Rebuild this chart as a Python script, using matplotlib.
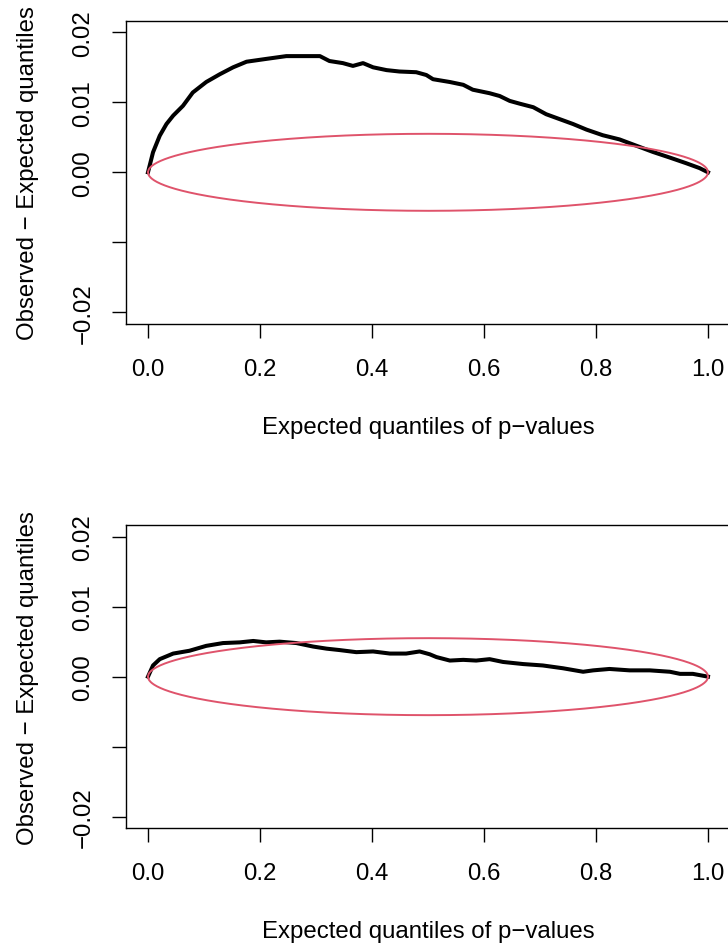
import numpy as np
import matplotlib
matplotlib.use("Agg")
import matplotlib.pyplot as plt

plt.rcParams['font.family'] = ['Liberation Sans', 'DejaVu Sans']

# observed - expected quantile differences, first run
x_top = [0.0, 0.009, 0.021, 0.033, 0.045, 0.0625, 0.080, 0.104, 0.128, 0.152,
         0.176, 0.211, 0.247, 0.265, 0.307, 0.324, 0.348, 0.366, 0.384, 0.402,
         0.426, 0.449, 0.479, 0.497, 0.509, 0.539, 0.563, 0.580, 0.610, 0.628,
         0.646, 0.664, 0.688, 0.711, 0.735, 0.759, 0.783, 0.812, 0.842, 0.872,
         0.902, 0.932, 0.961, 0.985, 1.0]
y_top = [0.0, 0.00286, 0.00523, 0.0069, 0.0081, 0.0095, 0.0114, 0.0129, 0.0140, 0.0150,
         0.0158, 0.0162, 0.0166, 0.0166, 0.0166, 0.0159, 0.0156, 0.0152, 0.0156, 0.0150,
         0.0146, 0.0144, 0.0143, 0.0139, 0.0133, 0.0129, 0.0125, 0.0118, 0.0113, 0.0109,
         0.0102, 0.0098, 0.0093, 0.0083, 0.0076, 0.0069, 0.0061, 0.0053, 0.0047, 0.0038,
         0.0029, 0.0021, 0.0013, 0.0006, 0.0]

# second run
x_bot = [0.0, 0.009, 0.021, 0.045, 0.074, 0.104, 0.134, 0.164, 0.188, 0.211,
         0.235, 0.265, 0.295, 0.319, 0.342, 0.372, 0.402, 0.432, 0.461, 0.485,
         0.503, 0.515, 0.539, 0.563, 0.586, 0.610, 0.634, 0.670, 0.705, 0.741,
         0.777, 0.795, 0.824, 0.860, 0.896, 0.932, 0.950, 0.973, 1.0]
y_bot = [0.0, 0.0016, 0.0025, 0.0033, 0.0037, 0.0044, 0.0048, 0.0049, 0.0051, 0.0049,
         0.0050, 0.0048, 0.0043, 0.0040, 0.0038, 0.0035, 0.0036, 0.0033, 0.0033, 0.0036,
         0.0032, 0.0028, 0.0023, 0.0024, 0.0023, 0.0025, 0.0021, 0.0018, 0.0016, 0.0012,
         0.0007, 0.0009, 0.0011, 0.0009, 0.0009, 0.0007, 0.0004, 0.0004, 0.0]

# half-width of the confidence band at p = 0.5
band_peak = 0.0055

xticks = [0.0, 0.2, 0.4, 0.6, 0.8, 1.0]
xtick_labels = ['0.0', '0.2', '0.4', '0.6', '0.8', '1.0']
yticks = [-0.02, -0.01, 0.0, 0.01, 0.02]
ytick_labels = ['\u22120.02', '', '0.00', '0.01', '0.02']

red = '#DF536B'
fs = 17.3

fig = plt.figure(figsize=(7.28, 9.45), dpi=100)
ax1 = fig.add_axes([0.1725, 0.6566, 0.8308, 0.32])
ax2 = fig.add_axes([0.1725, 0.1229, 0.8308, 0.32])

p = np.linspace(0, 1, 801)
band = band_peak * np.sqrt(p * (1 - p)) / 0.5

for ax, xs, ys in [(ax1, x_top, y_top), (ax2, x_bot, y_bot)]:
    ax.plot(xs, ys, color='black', lw=2.9, solid_joinstyle='round', zorder=3)
    ax.plot(p, band, color=red, lw=1.4, zorder=4)
    ax.plot(p, -band, color=red, lw=1.4, zorder=4)
    ax.set_xlim(-0.04, 1.04)
    ax.set_ylim(-0.0216, 0.0216)
    ax.set_xticks(xticks)
    ax.set_xticklabels(xtick_labels)
    ax.set_yticks(yticks)
    ax.set_yticklabels(ytick_labels, rotation=90, va='center')
    ax.tick_params(axis='both', direction='out', length=10, width=1.0,
                   labelsize=fs, color='black')
    ax.tick_params(axis='x', pad=14.5)
    ax.tick_params(axis='y', pad=12.5)
    for s in ax.spines.values():
        s.set_linewidth(1.0)
    ax.set_xlabel('Expected quantiles of p\u2212values', fontsize=fs, labelpad=26)
    ax.set_ylabel('Observed \u2212 Expected quantiles', fontsize=fs, labelpad=24)

fig.savefig('out.png', dpi=100)
